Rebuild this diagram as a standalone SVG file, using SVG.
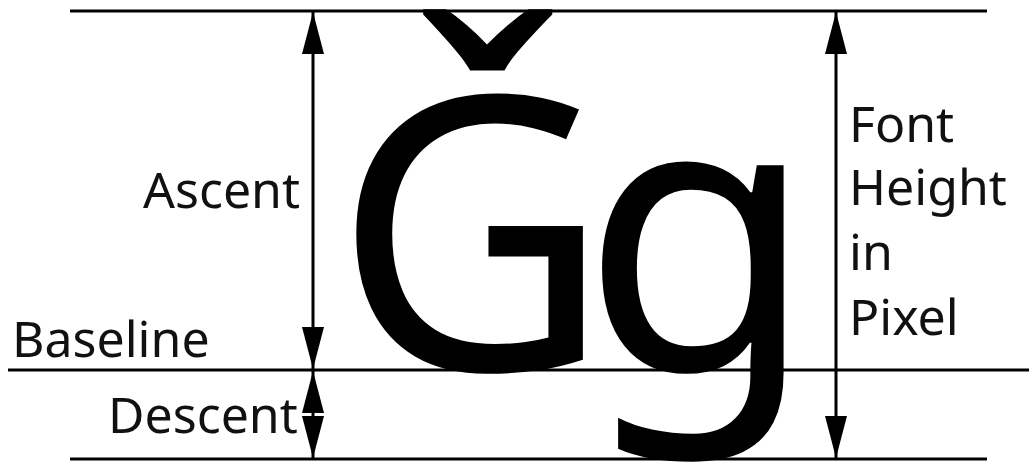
<svg xmlns="http://www.w3.org/2000/svg" width="1029" height="462" viewBox="0 0 1029 462">
<defs>
<style>
.rule{stroke:#000;stroke-width:3;fill:none}
.dim{stroke:#000;stroke-width:3;fill:none;marker-start:url(#ah);marker-end:url(#ah)}
.lbl{font-family:"Noto Sans","Open Sans",sans-serif;font-size:50px;fill:#111}
.big{font-family:"Noto Sans","Open Sans",sans-serif;font-size:382px;letter-spacing:-30px;fill:#000}
</style>
<marker id="ah" viewBox="0 0 42 22" refX="42" refY="11" markerWidth="42" markerHeight="22" markerUnits="userSpaceOnUse" orient="auto-start-reverse">
<path d="M0,0 L42,11 L0,22 z" fill="#000"/>
</marker>
</defs>
<rect width="1029" height="462" fill="#fff"/>
<g id="glyphs">
<text class="big" x="333" y="370">Ǧg</text>
</g>
<g id="lines">
<line class="rule" x1="70" y1="11" x2="987" y2="11"/>
<line class="rule" x1="8" y1="370" x2="1029" y2="370"/>
<line class="rule" x1="70" y1="459" x2="987" y2="459"/>
</g>
<g id="connectors">
<line class="dim" x1="313" y1="12" x2="313" y2="369"/>
<line class="dim" x1="313" y1="371" x2="313" y2="458"/>
<line class="dim" x1="836" y1="12" x2="836" y2="458"/>
</g>
<g id="ascent"><text class="lbl" x="143" y="208">Ascent</text></g>
<g id="baseline"><text class="lbl" x="12" y="357">Baseline</text></g>
<g id="descent"><text class="lbl" x="108" y="433">Descent</text></g>
<g id="fontheight">
<text class="lbl" x="849" y="142">Font</text>
<text class="lbl" x="849" y="205">Height</text>
<text class="lbl" x="849" y="270">in</text>
<text class="lbl" x="849" y="335">Pixel</text>
</g>
</svg>
